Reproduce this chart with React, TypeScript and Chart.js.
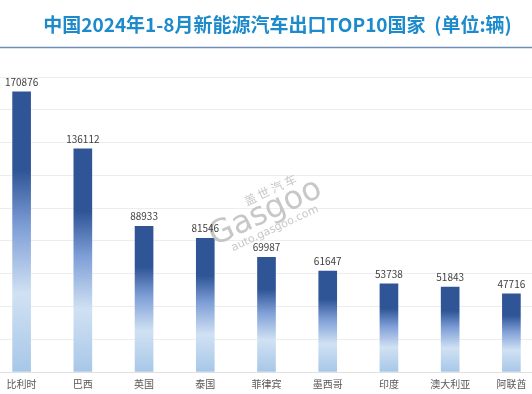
import React, { useEffect, useRef } from "react";
import { Chart, registerables } from "chart.js";

Chart.register(...registerables);

const categories = ["比利时", "巴西", "英国", "泰国", "菲律宾", "墨西哥", "印度", "澳大利亚", "阿联酋"];
const values = [170876, 136112, 88933, 81546, 69987, 61647, 53738, 51843, 47716];
const titleText = "中国2024年1-8月新能源汽车出口TOP10国家  (单位:辆)";
const yMax = 180000;
const yStep = 20000;

const OFFSET = 10;
const FONT = '"Noto Sans CJK SC", "Noto Sans", sans-serif';

export default function App() {
  const ref = useRef<HTMLCanvasElement>(null);
  useEffect(() => {
    const canvas = ref.current!;
    const decor = {
      id: "decor",
      beforeDraw(chart: any) {
        const ctx = chart.ctx;
        ctx.save();
        ctx.fillStyle = "#ffffff";
        ctx.fillRect(0, 0, chart.width, chart.height);
        ctx.font = `bold 19px ${FONT}`;
        ctx.fillStyle = "#1D8BCB";
        ctx.textAlign = "center";
        ctx.textBaseline = "middle";
        ctx.fillText(titleText, 277.5 + OFFSET, 24.5);
        ctx.strokeStyle = "#6F8FB8";
        ctx.lineWidth = 1.5;
        ctx.beginPath();
        ctx.moveTo(0, 47.5);
        ctx.lineTo(chart.width, 47.5);
        ctx.stroke();
        ctx.restore();
      },
      afterDatasetsDraw(chart: any) {
        const ctx = chart.ctx;
        const meta = chart.getDatasetMeta(0);
        // watermark
        ctx.save();
        ctx.translate(266 + OFFSET, 214);
        ctx.rotate((-25 * Math.PI) / 180);
        ctx.fillStyle = "rgba(185,185,185,0.8)";
        ctx.textAlign = "center";
        ctx.textBaseline = "middle";
        ctx.font = `12px ${FONT}`;
        ctx.fillText("盖 世 汽 车", 14, -20);
        ctx.font = `32px "DejaVu Sans", sans-serif`;
        ctx.fillText("Gasgoo", 0, -1);
        ctx.font = `11px "DejaVu Sans", sans-serif`;
        ctx.fillText("auto.gasgoo.com", 2, 17);
        ctx.restore();
        // labels
        ctx.save();
        ctx.font = `10px ${FONT}`;
        ctx.fillStyle = "#404040";
        ctx.textAlign = "center";
        ctx.textBaseline = "bottom";
        meta.data.forEach((el: any, i: number) => {
          ctx.fillText(String(values[i]), el.x, el.y - 5);
        });
        ctx.restore();
      },
    };
    const chart = new Chart(canvas, {
      type: "bar",
      data: {
        labels: categories,
        datasets: [
          {
            data: values,
            barThickness: 18,
            backgroundColor: (c: any) => {
              const ch = c.chart;
              if (!ch.chartArea || c.raw == null) return "#2F5597";
              const ys = ch.scales.y;
              const top = ys.getPixelForValue(c.raw);
              const bot = ys.getPixelForValue(0);
              const g = ch.ctx.createLinearGradient(0, top, 0, bot);
              g.addColorStop(0, "#2F5597");
              g.addColorStop(0.28, "#2F5597");
              g.addColorStop(0.48, "#7E9ED6");
              g.addColorStop(0.72, "#D0E1F3");
              g.addColorStop(1, "#A7C7E8");
              return g;
            },
          },
        ],
      },
      options: {
        responsive: false,
        animation: false,
        devicePixelRatio: 1,
        layout: { padding: { top: 77, left: 1, right: 0, bottom: 0 } },
        plugins: { legend: { display: false }, title: { display: false }, tooltip: { enabled: false } },
        scales: {
          x: {
            grid: { display: false, drawTicks: false },
            border: { display: true, color: "#e0e0e0" },
            ticks: { color: "#595959", font: { family: FONT, size: 10 }, padding: 6, maxRotation: 0, autoSkip: false },
            afterFit: (s: any) => {
              s.height = 22;
            },
          },
          y: {
            min: 0,
            max: yMax,
            ticks: { display: false, stepSize: yStep },
            grid: { color: "#ededed", drawTicks: false },
            border: { display: false },
            afterFit: (s: any) => {
              s.width = 0;
            },
          },
        },
      },
      plugins: [decor],
    } as any);
    return () => chart.destroy();
  }, []);
  return (
    <div style={{ position: "fixed", left: 0, top: 0, width: 532, height: 394, overflow: "hidden", background: "#fff" }}>
      <canvas ref={ref} width={552} height={394} style={{ position: "absolute", left: -OFFSET, top: 0, width: 552, height: 394 }} />
    </div>
  );
}
